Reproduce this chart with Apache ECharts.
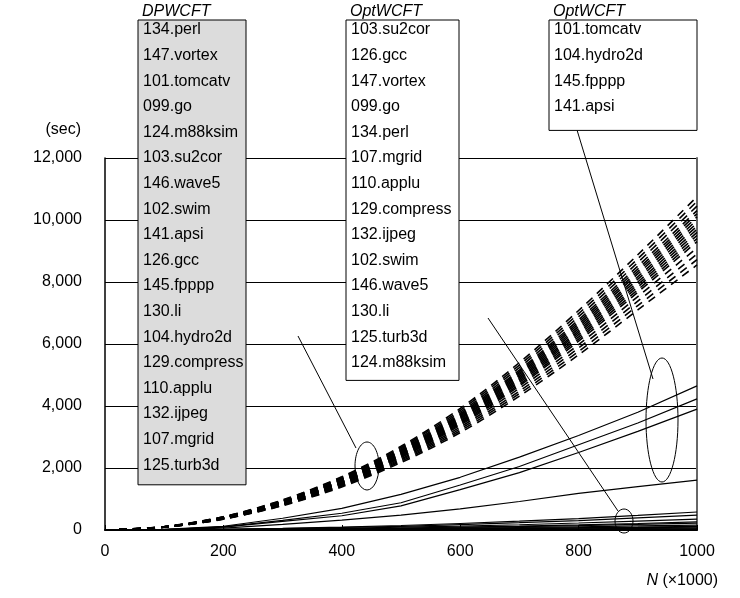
<!DOCTYPE html>
<html>
<head>
<meta charset="utf-8">
<script src="https://cdn.jsdelivr.net/npm/echarts@6/dist/echarts.min.js"></script>
<style>
html,body{margin:0;padding:0;background:#fff;}
#chart{width:740px;height:598px;}
</style>
</head>
<body>
<div id="chart"></div>
<script>
// ---- data ----
const xValues = [0, 100, 200, 300, 400, 500, 600, 700, 800, 900, 1000];
const xTicks = [0, 200, 400, 600, 800, 1000];

const dpwcftNames = ['134.perl','147.vortex','101.tomcatv','099.go','124.m88ksim','103.su2cor','146.wave5','102.swim','141.apsi','126.gcc','145.fpppp','130.li','104.hydro2d','129.compress','110.applu','132.ijpeg','107.mgrid','125.turb3d'];
const optNamesA = ['103.su2cor','126.gcc','147.vortex','099.go','134.perl','107.mgrid','110.applu','129.compress','132.ijpeg','102.swim','146.wave5','130.li','125.turb3d','124.m88ksim'];
const optNamesB = ['101.tomcatv','104.hydro2d','145.fpppp','141.apsi'];

// DPWCFT (dashed) curves, values in sec at xValues
const dpwcftValues = [
  [0,110,430,970,1720,2700,3920,5400,7080,8880,10750],
  [0,105,425,955,1700,2660,3860,5320,6980,8750,10600],
  [0,105,420,940,1670,2620,3800,5240,6880,8630,10450],
  [0,100,410,925,1650,2585,3750,5160,6780,8510,10300],
  [0,100,410,920,1630,2560,3710,5110,6710,8420,10200],
  [0,100,405,910,1615,2535,3675,5060,6640,8340,10100],
  [0,100,400,900,1600,2510,3640,5010,6570,8260,10000],
  [0,100,395,890,1585,2485,3605,4960,6500,8170,9900],
  [0,100,390,880,1570,2460,3570,4910,6430,8090,9800],
  [0,95,390,875,1550,2435,3530,4860,6370,8000,9700],
  [0,95,385,865,1535,2410,3495,4810,6300,7920,9600],
  [0,95,380,855,1520,2385,3455,4760,6230,7840,9500],
  [0,95,375,845,1505,2360,3420,4700,6160,7750,9400],
  [0,95,370,835,1490,2335,3380,4650,6090,7670,9300],
  [0,90,365,825,1465,2295,3320,4570,5980,7530,9100],
  [0,90,360,810,1440,2255,3260,4480,5870,7380,8900],
  [0,90,355,795,1415,2215,3200,4400,5760,7240,8720],
  [0,85,350,785,1390,2175,3140,4320,5650,7100,8550]
];
// OptWCFT group B (upper solid lines)
const optValuesB = [
  [0,20,120,380,700,1150,1700,2350,3050,3800,4650],
  [0,15,100,310,540,880,1450,2050,2750,3450,4230],
  [0,15,90,280,460,780,1300,1850,2500,3180,3900],
  [0,10,60,180,320,480,680,920,1180,1400,1610]
];
// OptWCFT group A (solid lines near zero)
const optValuesA = [
  [0,5,25,55,95,145,210,285,370,470,580],
  [0,5,20,45,80,120,175,235,305,390,480],
  [0,5,15,30,55,90,125,170,225,285,350],
  [0,5,10,25,40,65,95,125,165,210,260],
  [0,0,10,20,35,55,80,110,140,180,220],
  [0,0,5,15,25,40,60,80,100,130,160],
  [0,0,5,10,20,30,45,60,75,95,120],
  [0,0,5,10,15,20,30,45,60,75,90],
  [0,0,0,5,10,15,20,30,40,50,60],
  [0,0,0,5,5,10,15,20,25,30,40],
  [0,0,0,0,5,5,10,10,15,20,25],
  [0,0,0,0,0,5,5,5,10,10,15],
  [0,0,0,0,0,0,5,5,5,5,10],
  [0,0,0,0,0,0,0,0,5,5,5]
];

// ---- chart ----
const FONT = "'Liberation Sans', Arial, sans-serif";
const chart = echarts.init(document.getElementById('chart'), null, {renderer: 'canvas'});

function pairs(vals) { return xValues.map((x, i) => [x, vals[i]]); }

const series = [];
dpwcftValues.forEach((v, i) => series.push({
  type: 'line', name: 'DPWCFT ' + dpwcftNames[i], data: pairs(v), showSymbol: false, smooth: 0.3,
  lineStyle: {color: '#000', width: 1.6, type: [8, 6]}, silent: true, z: 3
}));
optValuesB.forEach((v, i) => series.push({
  type: 'line', name: 'OptWCFT ' + optNamesB[i], data: pairs(v), showSymbol: false,
  lineStyle: {color: '#000', width: 1.2}, silent: true, z: 3
}));
optValuesA.forEach((v, i) => series.push({
  type: 'line', name: 'OptWCFT ' + optNamesA[i], data: pairs(v), showSymbol: false,
  lineStyle: {color: '#000', width: 1.2}, silent: true, z: 3
}));

function legendBox(x, y, w, title, names, fill, pad) {
  const rowH = 25.6;
  const h = names.length * rowH + pad;
  const els = [
    {type: 'rect', z: 100, shape: {x: x, y: y, width: w, height: h}, style: {fill: fill, stroke: '#000', lineWidth: 1}},
    {type: 'text', z: 101, x: x + 4, y: y, style: {text: title, font: 'italic 16px ' + FONT, fill: '#000', textVerticalAlign: 'bottom'}}
  ];
  names.forEach((n, i) => els.push({
    type: 'text', z: 101, x: x + 5, y: y + 10 + i * rowH,
    style: {text: n, font: '16px ' + FONT, fill: '#000', textVerticalAlign: 'middle'}
  }));
  return els;
}

const option = {
  animation: false,
  backgroundColor: '#fff',
  grid: {left: 105, right: 43, top: 158, bottom: 68, containLabel: false},
  xAxis: {
    type: 'value', min: 0, max: 1000, interval: 200,
    axisLine: {show: true, onZero: false, lineStyle: {color: '#000', width: 2}},
    axisTick: {show: true, inside: true, length: 5, lineStyle: {color: '#000'}},
    axisLabel: {color: '#000', fontSize: 16, fontFamily: FONT, margin: 14,
      formatter: function (v) { return String(v); }},
    splitLine: {show: false}
  },
  yAxis: [{
    type: 'value', min: 0, max: 12000, interval: 2000,
    axisLine: {show: true, lineStyle: {color: '#000', width: 1.5}},
    axisTick: {show: false},
    axisLabel: {color: '#000', fontSize: 16, fontFamily: FONT, margin: 23},
    splitLine: {show: true, lineStyle: {color: '#000', width: 1}}
  }, {
    type: 'value', min: 0, max: 12000, interval: 2000, position: 'right',
    axisLine: {show: true, lineStyle: {color: '#666', width: 2}},
    axisTick: {show: false}, axisLabel: {show: false}, splitLine: {show: false}
  }],
  series: series,
  graphic: {elements: [
    {type: 'text', x: 81, y: 130, z: 100, style: {text: '(sec)', font: '16px ' + FONT, fill: '#000', textAlign: 'right', textVerticalAlign: 'middle'}},
    {type: 'text', x: 718, y: 581, z: 100, style: {
      text: '{i|N} (\u00d71000)', textAlign: 'right', textVerticalAlign: 'middle', fill: '#000', font: '16px ' + FONT,
      rich: {i: {fontStyle: 'italic', fontSize: 16, fontFamily: FONT, fill: '#000'}}
    }}
  ].concat(
    legendBox(138, 20, 108, 'DPWCFT', dpwcftNames, '#dcdcdc', 4),
    legendBox(346, 20, 113, 'OptWCFT', optNamesA, '#fff', 2),
    legendBox(549, 20, 148, 'OptWCFT', optNamesB, '#fff', 8),
    [
      {type: 'line', z: 90, shape: {x1: 298, y1: 336, x2: 356, y2: 448}, style: {stroke: '#000', lineWidth: 1}},
      {type: 'ellipse', z: 90, shape: {cx: 367, cy: 466, rx: 12, ry: 24}, style: {fill: 'none', stroke: '#000', lineWidth: 1}},
      {type: 'line', z: 90, shape: {x1: 577, y1: 130, x2: 653, y2: 379}, style: {stroke: '#000', lineWidth: 1}},
      {type: 'ellipse', z: 90, shape: {cx: 662, cy: 420, rx: 16, ry: 62}, style: {fill: 'none', stroke: '#000', lineWidth: 1}},
      {type: 'line', z: 90, shape: {x1: 488, y1: 318, x2: 618, y2: 511}, style: {stroke: '#000', lineWidth: 1}},
      {type: 'ellipse', z: 90, shape: {cx: 624, cy: 521, rx: 9, ry: 12}, style: {fill: 'none', stroke: '#000', lineWidth: 1}}
    ]
  )}
};
chart.setOption(option);
</script>
</body>
</html>
